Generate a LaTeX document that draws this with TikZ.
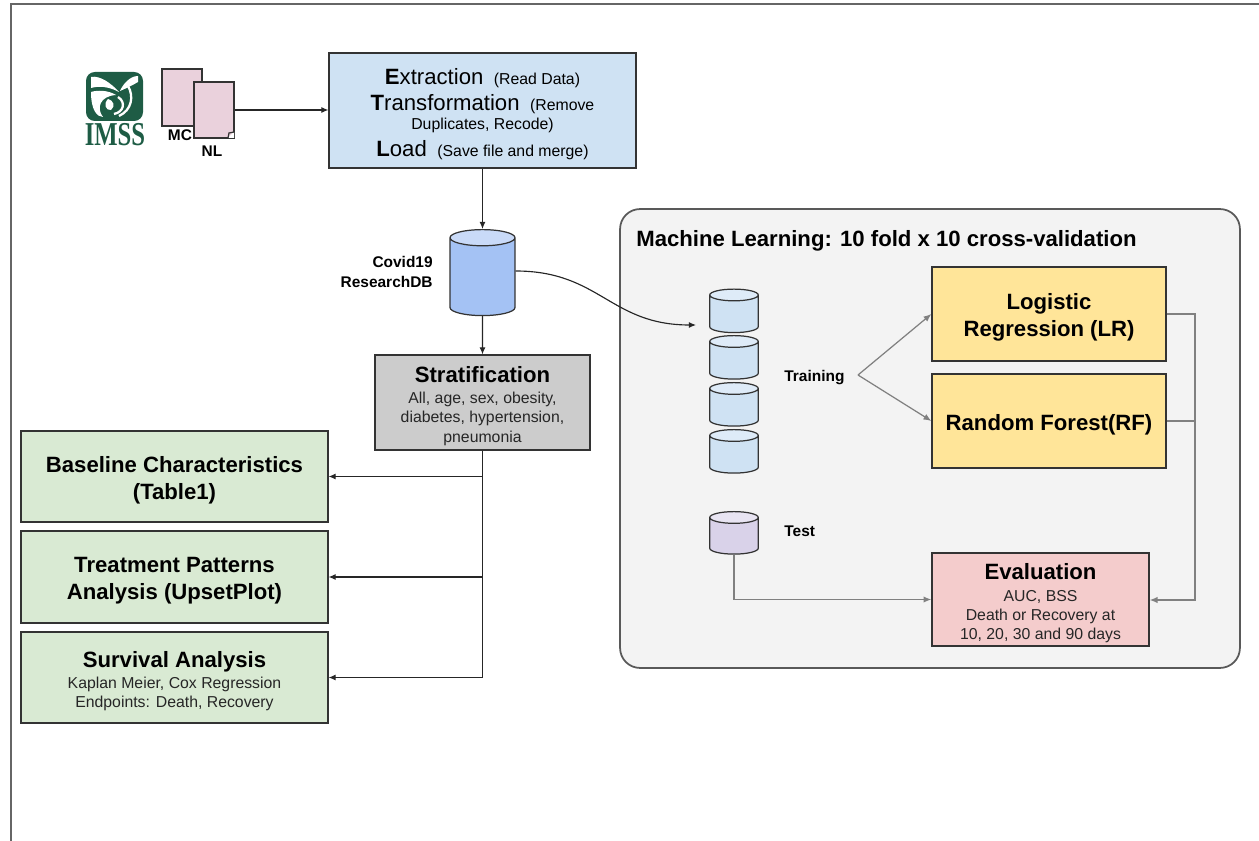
\documentclass[tikz,border=0pt]{standalone}
\usepackage{fontspec}
\setmainfont{Liberation Sans}
\newfontfamily\logofont{Liberation Serif}
\usetikzlibrary{calc,shapes.geometric,arrows.meta}
\definecolor{etlblue}{HTML}{CFE2F3}
\definecolor{dbblue}{HTML}{A4C2F4}
\definecolor{dbtop}{HTML}{C9DAF8}
\definecolor{foldtop}{HTML}{DEEBF8}
\definecolor{greenbox}{HTML}{D9EAD3}
\definecolor{greybox}{HTML}{CCCCCC}
\definecolor{yellowbox}{HTML}{FFE599}
\definecolor{redbox}{HTML}{F4CCCC}
\definecolor{purplebox}{HTML}{D9D2E9}
\definecolor{purpletop}{HTML}{E8E4F2}
\definecolor{pinkdoc}{HTML}{EAD1DC}
\definecolor{panelgrey}{HTML}{F3F3F3}
\definecolor{imssgreen}{HTML}{1E5C45}
\newcommand{\ttlfont}{\fontsize{12.6}{15.3}\selectfont}
\newcommand{\ttlbf}{\fontsize{12.6}{15.3}\selectfont\bfseries\color{black}}
\newcommand{\smlfont}{\fontsize{9}{11}\selectfont}
\newcommand{\lblfont}{\fontsize{8.8}{11.6}\selectfont\bfseries}
\newcommand{\lift}{\rule{0pt}{13.2pt}}
\tikzset{
  boxed/.style={draw=black!80, line width=.7pt, rectangle, align=center, inner sep=0pt},
  titlebox/.style={boxed, font=\ttlbf},
  notebox/.style={boxed, font=\smlfont, text=black!85},
  dbcyl/.style={draw=black!80, line width=.7pt, cylinder, shape border rotate=90, cylinder uses custom fill, anchor=north},
  docsheet/.style={draw=black!80, line width=.7pt, fill=pinkdoc, rectangle, minimum width=.8cm, inner sep=0pt},
  lbl/.style={font=\lblfont, inner sep=0pt, align=right},
  flow/.style={line width=.65pt, black!85, -{Latex[length=4pt,width=3.4pt]}},
  greyflow/.style={line width=.7pt, black!50, -{Latex[length=4.5pt,width=3.6pt]}}
}
\begin{document}
\begin{tikzpicture}[x=0.02cm,y=-0.02cm]
      \useasboundingbox (0,0) rectangle (1259,841);
      \draw[line width=1.15pt, black!60] (11,841) -- (11,4) -- (1259,4);

      % logo
      \fill[imssgreen, rounded corners=5pt] (86,72) rectangle (143,121);
      \fill[white] (91,77) .. controls (100,75) and (112,84) .. (119,92) .. controls (108,86) and (98,86) .. (91,88) -- cycle;
      \fill[white] (138,76) .. controls (130,76) and (123,84) .. (120,91) .. controls (127,88) and (133,85) .. (138,82) -- cycle;
      \fill[white] (91,92) .. controls (97,90) and (108,90) .. (116,95) .. controls (100,96) and (96,108) .. (103,117) .. controls (97,117) and (91,110) .. (91,92) -- cycle;
      \draw[white, line width=1.3pt] (128,86) .. controls (134,96) and (132,110) .. (119,116);
      \draw[white, line width=1.3pt] (118,97) .. controls (126,102) and (124,112) .. (114,114);
      \fill[white] (108,99) .. controls (113,100) and (116,106) .. (111,110) .. controls (106,111) and (103,104) .. (108,99) -- cycle;
      \node (imss) at (115,135) [inner sep=0pt, text=imssgreen, font=\logofont\fontsize{19}{19}\selectfont\bfseries] {\scalebox{.74}[1]{IMSS}};

      % source files
      \node (mc) at (182,97.5) [docsheet, minimum height=1.14cm] {};
      \node (nl) at (214,110) [docsheet, minimum height=1.12cm] {};
      \fill[white] (234,138) -- (228,138) -- (234,132) -- cycle;
      \draw[line width=.7pt, black!80] (228,138) -- (229,133) -- (234,132);
      \node (mclbl) at (180,135.5) [lbl] {MC};
      \node (nllbl) at (212,151) [lbl] {NL};

      \node (etl) at (482.5,110.5) [boxed, fill=etlblue, minimum width=6.14cm, minimum height=2.3cm, font=\ttlfont] {%
        \lift\textbf{E}xtraction {\smlfont\ (Read Data)}\\[-.4pt]
        \textbf{T}ransformation {\smlfont\ (Remove}\\[-4.5pt]
        {\smlfont Duplicates, Recode)}\\[0pt]
        \textbf{L}oad {\smlfont\ (Save file and merge)}};

      \node (db) at (482.5,229) [dbcyl, cylinder body fill=dbblue, cylinder end fill=dbtop, minimum width=1.3cm, minimum height=1.72cm, shape aspect=1.38] {};
      \node (dblbl) at (433,272) [lbl, anchor=east] {Covid19\\ResearchDB};

      \node (strat) at (482.5,402.5) [notebox, fill=greybox, minimum width=4.3cm, minimum height=1.9cm] {%
        {\lift\ttlbf Stratification}\\[1pt]
        All, age, sex, obesity,\\diabetes, hypertension,\\pneumonia};

      \node (base) at (174.5,476.5) [titlebox, fill=greenbox, minimum width=6.14cm, minimum height=1.82cm] {\lift Baseline Characteristics\\(Table1)};
      \node (treat) at (174.5,577) [titlebox, fill=greenbox, minimum width=6.14cm, minimum height=1.84cm] {\lift Treatment Patterns\\Analysis (UpsetPlot)};
      \node (surv) at (174.5,677.5) [notebox, fill=greenbox, minimum width=6.14cm, minimum height=1.82cm] {%
        {\lift\ttlbf Survival Analysis}\\[1pt]
        Kaplan Meier, Cox Regression\\Endpoints: Death, Recovery};

      % machine learning panel
      \node (panel) at (930,438.5) [draw=black!65, line width=1pt, fill=panelgrey, rectangle, rounded corners=.4cm, minimum width=12.4cm, minimum height=9.18cm] {};
      \node (paneltitle) at (636,241) [anchor=west, inner sep=0pt, font=\ttlbf] {Machine Learning: 10 fold x 10 cross-validation};

      \foreach \n/\y in {one/288.5,two/335,three/382,four/429}
               {
                 \node (\n) at (734,\y) [dbcyl, cylinder body fill=etlblue, cylinder end fill=foldtop, minimum width=.97cm, minimum height=.87cm, shape aspect=1] {};
               }
      \node (test) at (734,511) [dbcyl, cylinder body fill=purplebox, cylinder end fill=purpletop, minimum width=.97cm, minimum height=.85cm, shape aspect=1] {};
      \node (trainlbl) at (784,377.5) [lbl, anchor=west] {Training};
      \node (testlbl) at (784,531) [lbl, anchor=west] {Test};

      \node (lr) at (1049,314) [titlebox, fill=yellowbox, minimum width=4.68cm, minimum height=1.88cm] {\lift Logistic\\Regression (LR)};
      \node (rf) at (1049,421) [titlebox, fill=yellowbox, minimum width=4.68cm, minimum height=1.88cm] {\lift Random Forest(RF)};
      \node (eval) at (1040.5,599.5) [notebox, fill=redbox, minimum width=4.34cm, minimum height=1.86cm] {%
        {\lift\ttlbf Evaluation}\\[1.5pt]
        AUC, BSS\\Death or Recovery at\\10, 20, 30 and 90 days};

      \coordinate (fork) at (858,375);
      \coordinate (rail) at (1195,600);
      \coordinate (foldin) at (696,325);

      \draw[flow] (nl.east |- 0,110) -- (etl.west |- 0,110);
      \draw[flow] (etl.south) -- (db.north);
      \draw[flow] (db.south) -- (strat.north);
      \draw[flow] (db.east |- 0,271) .. controls (600,271) and (610,325) .. (foldin);
      \foreach \n in {base,treat,surv}
               {
                 \draw[flow] (strat.south) |- (\n.east);
               }
      \draw[greyflow] (fork) -- (lr.west);
      \draw[greyflow] (fork) -- (rf.west);
      \draw[greyflow] (test.south) |- (eval.west);
      \draw[greyflow] (lr.east) -| (rail) -- (eval.east |- rail);
      \draw[line width=.7pt, black!50] (rf.east) -- (rf.east -| rail);
    \end{tikzpicture}
\end{document}
